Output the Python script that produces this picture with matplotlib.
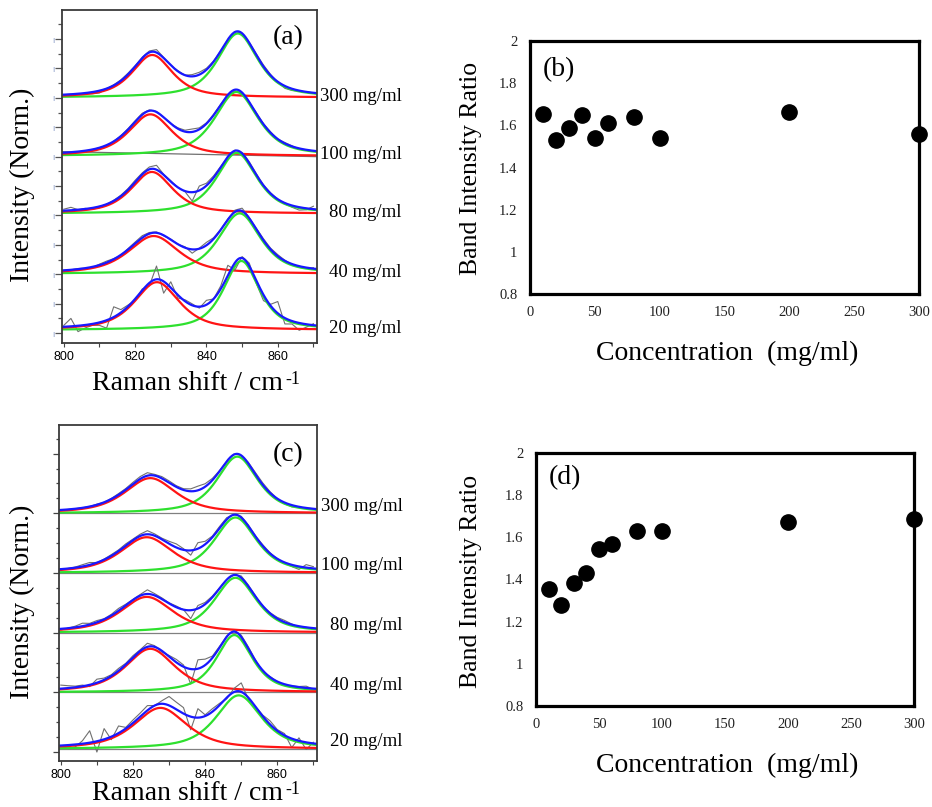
import numpy as np
import matplotlib.pyplot as plt
from matplotlib.ticker import MultipleLocator, FixedLocator

plt.rcParams['font.family'] = 'Liberation Serif'

# ---- data ----
# Raman shift sampling of the measured spectra (cm-1)
shift = [800, 802, 804, 806, 808, 810, 812, 814, 816, 818, 820, 822,
         824, 826, 828, 830, 832, 834, 836, 838, 840, 842, 844, 846,
         848, 850, 852, 854, 856, 858, 860, 862, 864, 866, 868, 870]

conc_labels = ['300 mg/ml', '100 mg/ml', '80 mg/ml', '40 mg/ml', '20 mg/ml']

# panel (a): offset of each trace, band near 825 (c1, h1, w1) and band near 849 (c2, h2, w2)
a_base = [8.01, 6.02, 4.06, 2.01, 0.10]
a_c1 = [824.8, 824.3, 824.7, 825.2, 826.1]
a_h1 = [1.45, 1.42, 1.42, 1.29, 1.63]
a_w1 = [13.5, 14.5, 14.0, 17.0, 15.0]
a_c2 = [848.8, 848.4, 848.5, 849.3, 849.8]
a_h2 = [2.18, 2.18, 2.07, 2.06, 2.35]
a_w2 = [13.5, 14.5, 13.5, 14.0, 12.0]
# deviation of the measured (grey) trace from the fit
a_resid = [
    [0, 0, 0, -0.02, -0.06, -0.08, 0, 0.02, 0.03, 0.04, 0.02, 0.03,
     0.05, 0.1, 0.02, 0, 0.02, 0, 0.06, 0.08, 0.05, 0.02, 0, 0,
     0.02, 0, 0.02, 0.04, 0.05, 0.03, -0.02, -0.08, -0.06, -0.02, 0, 0],
    [0, 0, -0.03, -0.05, -0.02, 0, -0.04, 0, 0.02, 0.03, 0.04, 0.05,
     0.03, 0.02, 0, 0, 0.03, 0.05, 0.1, 0.05, 0.03, 0.03, 0.02, 0,
     -0.04, -0.02, 0, 0.03, 0.02, 0.03, 0, 0.03, 0.02, -0.03, -0.02, 0],
    [0.05, 0.1, 0, 0.02, -0.04, -0.05, 0, 0.02, 0.03, 0.04, 0.06, 0.05,
     0.08, 0.15, 0.02, 0.03, 0, -0.02, -0.3, 0.15, 0.08, 0.06, 0.03, 0,
     0.02, 0.03, 0.05, 0.04, 0.02, 0.02, 0, -0.03, -0.06, -0.1, -0.05, 0.1],
    [0, 0, 0.02, 0, -0.02, 0.03, 0.05, 0.02, -0.02, 0.03, 0.05, 0.07,
     0.04, 0.03, -0.02, 0.02, 0, 0.03, -0.13, 0.02, 0.1, 0.04, 0.02, 0.03,
     0.06, 0.1, 0.02, 0.03, 0.05, 0.04, 0.05, 0.02, -0.02, -0.04, -0.03, 0.03],
    [0.05, 0.27, -0.2, -0.1, -0.05, -0.1, -0.27, 0.35, 0.1, 0.05, -0.05, 0.05,
     -0.1, 0.45, -0.4, 0.2, -0.1, 0.05, 0.05, -0.05, 0.15, 0.0, 0.1, 0.35,
     -0.25, 0.05, 0.1, -0.1, -0.2, 0.05, 0.4, -0.2, -0.1, -0.25, -0.1, 0.05],
]
a_line100 = [6.17, 6.0]   # grey linear baseline under the 100 mg/ml trace

# panel (c)
c_base = [4.0, 3.0, 2.0, 1.0, 0.05]
c_c1 = [824.8, 823.8, 823.8, 824.8, 827.6]
c_h1 = [0.59, 0.60, 0.60, 0.73, 0.69]
c_w1 = [17.0, 17.5, 17.5, 16.5, 17.5]
c_c2 = [848.9, 848.4, 848.4, 848.1, 849.3]
c_h2 = [0.95, 0.93, 0.92, 0.96, 0.90]
c_w2 = [13.5, 14.0, 14.0, 12.0, 15.0]
c_resid = [
    [0, 0, 0, 0, 0, 0.01, 0, 0.01, 0.02, 0.02, 0.03, 0.04,
     0.05, 0.02, 0.03, 0.03, 0.02, 0.02, 0.04, 0.07, 0.05, 0.03, 0.01, 0,
     0.01, 0, 0.02, 0.03, 0.03, 0.02, 0, -0.02, -0.03, -0.01, 0, 0],
    [0, 0, 0.01, 0.03, 0.04, 0, 0.01, 0.02, 0.02, 0.03, 0.02, 0.03,
     0.06, 0.03, 0.02, 0.04, 0.06, 0.02, -0.08, 0.1, 0.05, 0.02, 0.03, 0.03,
     0, 0.02, 0.02, 0.01, 0.02, 0.01, 0, -0.01, -0.03, -0.05, 0.05, 0.03],
    [-0.02, 0, 0.02, 0.05, 0.02, 0.03, 0.01, 0.02, 0.04, 0.02, 0.01, 0.02,
     0.07, 0.03, 0.02, 0.01, 0.02, 0, -0.14, 0.05, 0.03, 0.02, 0.01, 0,
     0, 0.03, 0.02, 0.01, 0, 0.01, 0.02, 0.03, 0.01, -0.02, 0, -0.02],
    [0.06, 0.04, 0.02, 0.02, -0.03, 0.06, 0.03, 0.02, 0.04, 0.02, 0.03, 0.02,
     0.06, 0.02, -0.02, 0.02, 0.05, 0.03, -0.25, 0.15, 0.1, 0.03, 0.02, 0.01,
     0.02, 0.03, 0.03, 0.01, -0.02, 0.01, 0, -0.02, 0, 0.01, 0.03, -0.01],
    [0.0, -0.06, -0.04, 0.05, 0.2, -0.18, 0.18, -0.05, 0.12, 0.02, 0.05, 0.06,
     0.08, 0.0, 0.05, 0.15, 0.12, 0.1, -0.22, 0.15, 0.02, 0.05, 0.03, -0.02,
     0.06, 0.15, -0.03, 0.0, 0.02, 0.06, 0.02, 0.03, -0.15, 0.05, -0.12, 0.02],
]

# panels (b) and (d): band intensity ratio vs concentration
conc = [10, 20, 30, 40, 50, 60, 80, 100, 200, 300]
ratio_b = [1.652, 1.532, 1.585, 1.648, 1.540, 1.611, 1.640, 1.539, 1.664, 1.561]
ratio_d = [1.353, 1.281, 1.385, 1.431, 1.543, 1.570, 1.628, 1.628, 1.673, 1.687]

W, H = 932, 807
RED, GREEN, BLUE, GREY = '#ff1414', '#2ee02e', '#1818ff', '#707070'


def band(x, c, h, w, eta=0.7):
    # pseudo-Voigt band used for the fitted components
    d = (np.asarray(x, dtype=float) - c) / (w / 2.0)
    return h * (eta / (1 + d ** 2) + (1 - eta) * np.exp(-np.log(2) * d ** 2))


def rect(left, top, right, bottom):
    return [left / W, 1 - bottom / H, (right - left) / W, (bottom - top) / H]


def spectra_panel(ax, base, c1, h1, w1, c2, h2, w2, resid, lab_off):
    xf = np.linspace(799.0, 872.0, 500)
    for i in range(len(base)):
        r = band(xf, c1[i], h1[i], w1[i])
        g = band(xf, c2[i], h2[i], w2[i])
        meas = (base[i] + band(shift, c1[i], h1[i], w1[i])
                + band(shift, c2[i], h2[i], w2[i]) + np.array(resid[i]))
        ax.plot(shift, meas, color=GREY, lw=0.8)
        ax.plot(xf, base[i] + g, color=GREEN, lw=1.6)
        ax.plot(xf, base[i] + r, color=RED, lw=1.6)
        ax.plot(xf, base[i] + r + g, color=BLUE, lw=1.6)
        ax.text(1.333, base[i] + lab_off, conc_labels[i], transform=ax.get_yaxis_transform(),
                ha='right', va='center', fontsize=13.5, clip_on=False)
    ax.set_xlim(799.5, 871)
    ax.xaxis.set_major_locator(FixedLocator([800, 820, 840, 860]))
    ax.xaxis.set_minor_locator(MultipleLocator(10))
    ax.tick_params(axis='x', which='both', direction='out', length=3, width=0.8,
                   color='#444444', pad=3)
    for t in ax.get_xticklabels():
        t.set_family('Liberation Sans')
        t.set_fontsize(9)
    for s in ax.spines.values():
        s.set_linewidth(1.3)
        s.set_color('#3a3a3a')


def ratio_panel(ax, y, letter, ylab_y, xlab_y, letter_xy):
    ax.plot(conc, y, 'o', color='black', ms=11, clip_on=False, zorder=5)
    ax.set_xlim(0, 300)
    ax.set_ylim(0.8, 2.0)
    ax.set_xticks([0, 50, 100, 150, 200, 250, 300])
    ax.set_yticks([0.8, 1.0, 1.2, 1.4, 1.6, 1.8, 2.0])
    ax.set_yticklabels(['0.8', '1', '1.2', '1.4', '1.6', '1.8', '2'])
    ax.tick_params(axis='both', length=0, labelsize=10.5, colors='#222222', pad=9)
    for s in ax.spines.values():
        s.set_linewidth(2.3)
        s.set_color('black')
    fig.text(471 / W, 1 - ylab_y / H, 'Band Intensity Ratio', rotation=90,
             ha='center', va='center', fontsize=18.5)
    fig.text(727 / W, 1 - xlab_y / H, 'Concentration  (mg/ml)',
             ha='center', va='center', fontsize=20)
    fig.text(letter_xy[0] / W, 1 - letter_xy[1] / H, letter,
             ha='center', va='center', fontsize=20)


fig = plt.figure(figsize=(W / 100, H / 100), dpi=100)

# (a)
ax_a = fig.add_axes(rect(62, 10, 317, 343))
spectra_panel(ax_a, a_base, a_c1, a_h1, a_w1, a_c2, a_h2, a_w2, a_resid, 0.04)
ax_a.plot([799.5, 871], a_line100, color=GREY, lw=0.9, zorder=1)
ax_a.set_ylim(-0.34, 10.99)
ax_a.yaxis.set_major_locator(FixedLocator(range(0, 11)))
ax_a.yaxis.set_minor_locator(MultipleLocator(0.5))
ax_a.set_yticklabels(['ı'] * 11, family='DejaVu Sans', fontsize=6, color='#8a9cc8')
ax_a.tick_params(axis='y', which='major', length=5, width=0.9, color='#555555', pad=0.5)
ax_a.tick_params(axis='y', which='minor', length=3, width=0.9, color='#555555')

# (c)
ax_c = fig.add_axes(rect(59, 425, 317, 761))
for b in c_base:
    ax_c.axhline(b, color='#808080', lw=0.9, zorder=1)
spectra_panel(ax_c, c_base, c_c1, c_h1, c_w1, c_c2, c_h2, c_w2, c_resid, 0.12)
ax_c.set_ylim(-0.15, 5.48)
ax_c.yaxis.set_major_locator(FixedLocator(range(0, 6)))
ax_c.yaxis.set_minor_locator(MultipleLocator(0.25))
ax_c.set_yticklabels([])
ax_c.tick_params(axis='y', which='major', length=4.5, width=0.9, color='#444444')
ax_c.tick_params(axis='y', which='minor', length=2.5, width=0.9, color='#444444')

for ax, ylab_y, xlab_y, letter, ly in [(ax_a, 185, 384, '(a)', 38), (ax_c, 602, 794, '(c)', 455)]:
    fig.text(22 / W, 1 - ylab_y / H, 'Intensity (Norm.)', rotation=90,
             ha='center', va='center', fontsize=20)
    t = fig.text(188 / W, 1 - xlab_y / H, 'Raman shift / cm',
                 ha='center', va='center', fontsize=20)
    ax.annotate('-1', xy=(1.01, 1.04), xycoords=t, ha='left', va='top',
                fontsize=13, annotation_clip=False)
    fig.text(288 / W, 1 - ly / H, letter, ha='center', va='center', fontsize=20)

# (b) and (d)
ax_b = fig.add_axes(rect(530, 41, 919, 294))
ratio_panel(ax_b, ratio_b, '(b)', 168, 353, (559, 70))
ax_d = fig.add_axes(rect(536, 453, 914, 706))
ratio_panel(ax_d, ratio_d, '(d)', 581, 765, (565, 478))

fig.savefig('out.png', dpi=100)
